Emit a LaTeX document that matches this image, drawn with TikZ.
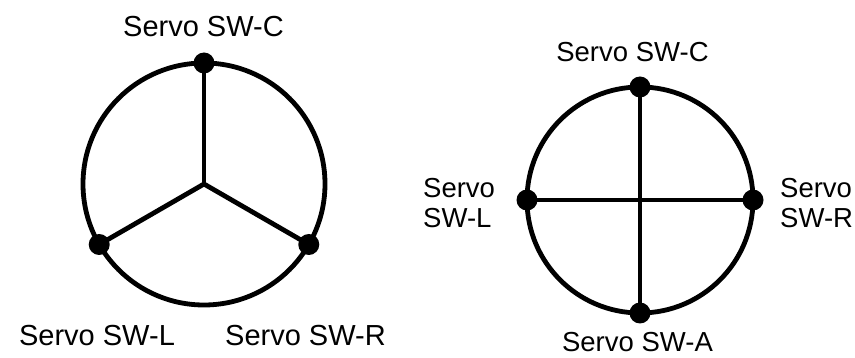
\documentclass[tikz,border=0pt]{standalone}
\usepackage{fontspec}
\setmainfont{Liberation Sans}
\usetikzlibrary{calc}
\begin{document}
\begin{tikzpicture}[x=1pt,y=-1pt,
  ring/.style={circle,draw,line width=4.8pt,inner sep=0pt},
  spoke/.style={line width=4.8pt},
  servodot/.style={circle,fill,inner sep=0pt,minimum size=21pt},
  lblA/.style={inner sep=0pt,anchor=base,font=\fontsize{29}{31}\selectfont},
  lblB/.style={inner sep=0pt,anchor=base,font=\fontsize{27.5}{31}\selectfont},
  lblside/.style={inner sep=0pt,anchor=base west,align=left,font=\fontsize{27.5}{30.7}\selectfont}]
\useasboundingbox (0,0) rectangle (855,358);

% three-servo layout
\coordinate (hubA) at (204,184);
\node[ring,minimum size=242pt] (ringA) at (hubA) {};
\coordinate (pC) at ($(hubA)+(-90:121)$);
\coordinate (pL) at ($(hubA)+(150:121)$);
\coordinate (pR) at ($(hubA)+(30:121)$);
\draw[spoke] (hubA) -- (pC);
\draw[spoke] (hubA) -- (pL);
\draw[spoke] (hubA) -- (pR);
\node[servodot] (dC) at (pC) {};
\node[servodot] (dL) at (pL) {};
\node[servodot] (dR) at (pR) {};
\node[lblA] (tC) at (203.5,36.7) {Servo SW-C};
\node[lblA] (tL) at (97,345) {Servo SW-L};
\node[lblA] (tR) at (305.5,345) {Servo SW-R};

% four-servo layout
\coordinate (hubB) at (640,200);
\node[ring,minimum size=226pt] (ringB) at (hubB) {};
\coordinate (qC) at ($(hubB)+(-90:113)$);
\coordinate (qA) at ($(hubB)+(90:113)$);
\coordinate (qL) at ($(hubB)+(180:113)$);
\coordinate (qR) at ($(hubB)+(0:113)$);
\draw[spoke] (qC) -- (qA);
\draw[spoke] (qL) -- (qR);
\node[servodot] (eC) at (qC) {};
\node[servodot] (eA) at (qA) {};
\node[servodot] (eL) at (qL) {};
\node[servodot] (eR) at (qR) {};
\node[lblB] (uC) at (632.5,61.7) {Servo SW-C};
\node[lblB] (uA) at (637.5,352) {Servo SW-A};
\node[lblside] (uL) at (423,228) {Servo\\SW-L};
\node[lblside] (uR) at (780,228) {Servo\\SW-R};
\end{tikzpicture}
\end{document}
